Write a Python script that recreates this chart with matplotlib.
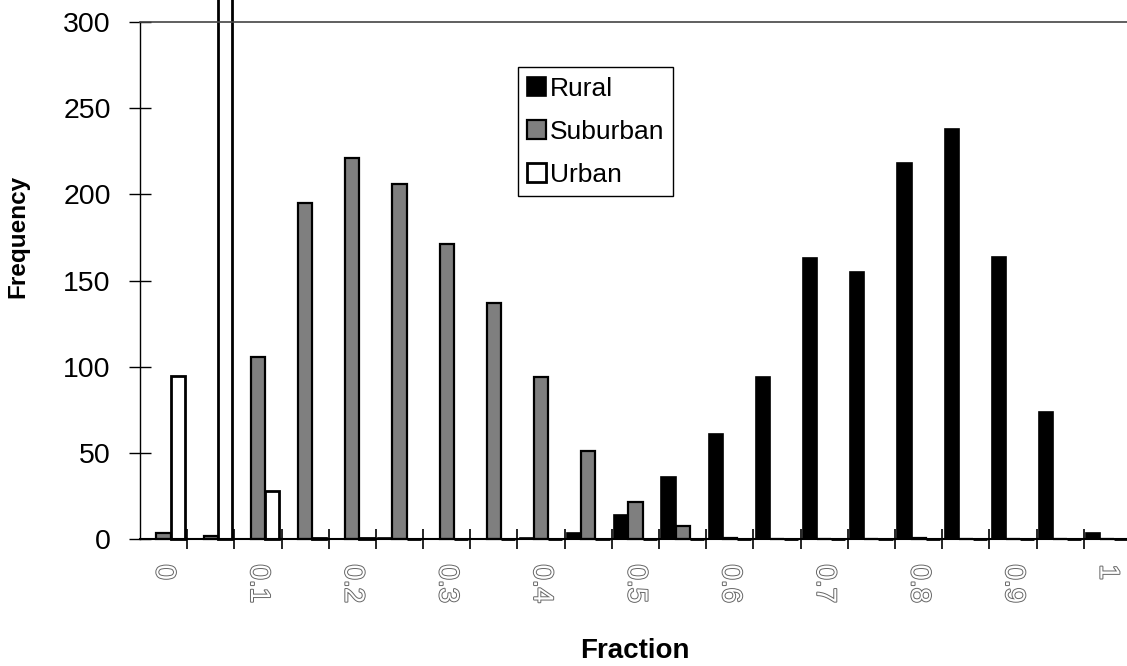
import numpy as np
import matplotlib
matplotlib.use('Agg')
import matplotlib.pyplot as plt
import matplotlib.patheffects as pe

plt.rcParams['font.family'] = ['Liberation Sans', 'DejaVu Sans']

# histogram bins (fraction) and counts
fraction = ['0', '0.05', '0.1', '0.15', '0.2', '0.25', '0.3', '0.35', '0.4', '0.45', '0.5',
            '0.55', '0.6', '0.65', '0.7', '0.75', '0.8', '0.85', '0.9', '0.95', '1']
rural = [0, 0, 0, 0, 0, 1, 0, 0, 1, 4, 14, 36, 61, 94, 163, 155, 218, 238, 164, 74, 4]
suburban = [3.5, 2, 106, 195, 221, 206, 171, 137, 94, 51, 22, 8, 1, 0, 0, 0, 1, 0, 0, 0, 0]
# the 0.05 urban bar runs off the top of the chart
urban = [95, 320, 28, 1, 1, 0, 0, 0, 0, 0, 0, 0, 0, 0, 0, 0, 0, 0, 0, 0, 0]
y_ticks = [0, 50, 100, 150, 200, 250, 300]

fig = plt.figure(figsize=(11.27, 6.66), dpi=100)
ax = fig.add_axes([0.1242, 0.19, 0.8793, 0.777])

x = np.arange(len(fraction))
w = 0.3
ax.bar(x - w, rural, w, color='black', edgecolor='black', linewidth=1.2, label='Rural', clip_on=False)
ax.bar(x, suburban, w, color='#7f7f7f', edgecolor='black', linewidth=1.6, label='Suburban', clip_on=False)
ax.bar(x + w, urban, w, color='white', edgecolor='black', linewidth=2.0, label='Urban', clip_on=False)

ax.set_xlim(-0.5, len(fraction) - 0.5)
ax.set_ylim(0, 300)

# y axis: crossing ticks
ax.set_yticks(y_ticks)
ax.tick_params(axis='y', direction='inout', length=16, width=1, pad=13, labelsize=20.5)

# x axis: ticks on the bin boundaries, labels on every other bin centre
ax.set_xticks(x[:-1] + 0.5)
ax.set_xticklabels([])
ax.tick_params(axis='x', which='major', direction='inout', length=14, width=1.2)
ax.set_xticks(x[::2], minor=True)
ax.set_xticklabels([fraction[i] for i in x[::2]], minor=True, rotation=-90)
ax.tick_params(axis='x', which='minor', length=0, pad=18, labelsize=20)
for lab in ax.get_xticklabels(minor=True):
    lab.set_color('white')
    lab.set_path_effects([pe.withStroke(linewidth=1.4, foreground='#666666')])

ax.spines['right'].set_visible(False)
ax.spines['top'].set_color('#444444')
ax.spines['top'].set_linewidth(1.2)
ax.spines['left'].set_linewidth(1.0)
ax.spines['bottom'].set_linewidth(1.5)

ax.set_ylabel('Frequency', fontsize=17.5, fontweight='bold')
ax.yaxis.set_label_coords(-0.112, 0.586)
ax.set_xlabel('Fraction', fontsize=20, fontweight='bold')
ax.xaxis.set_label_coords(0.4995, -0.19)

leg = fig.legend(loc='upper left', bbox_to_anchor=(0.4596, 0.899), fontsize=19,
                 frameon=True, fancybox=False, framealpha=1, edgecolor='black',
                 handlelength=0.7, handleheight=0.7, handletextpad=0.15,
                 labelspacing=0.72, borderpad=0.35, borderaxespad=0)
leg.get_frame().set_linewidth(1.0)

fig.savefig('out.png', dpi=100)
plt.close(fig)
